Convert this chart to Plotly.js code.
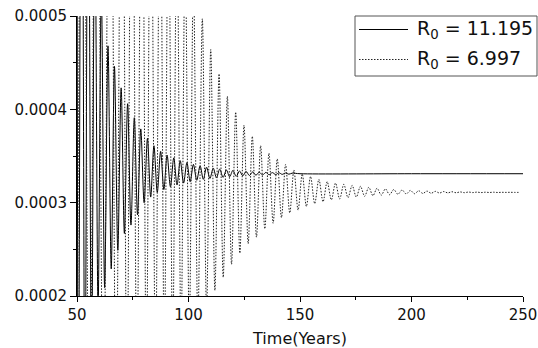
<!DOCTYPE html>
<html>
<head>
<meta charset="utf-8">
<script src="https://cdn.plot.ly/plotly-3.0.1.min.js"></script>
<style>html,body{margin:0;padding:0;background:#fff;}#chart{width:538px;height:348px;}</style>
</head>
<body>
<div id="chart"></div>
<script>
// Series names
const seriesNames = ['R<sub>0</sub> = 11.195', 'R<sub>0</sub> = 6.997'];

// R0 = 11.195 (solid): local extremes (time in years, value)
const solidT = [50, 50.6, 52.1, 53.55, 55.0, 56.5, 58.0, 59.45, 60.9, 62.4, 63.9, 65.35, 66.8, 68.3, 69.8,
  71.25, 72.7, 74.2, 75.7, 77.15, 78.6, 80.1, 81.6, 83.05, 84.5, 86.0, 87.5, 88.95, 90.4, 91.9, 93.4,
  94.85, 96.3, 97.8, 99.3, 100.75, 102.2, 103.7, 105.2, 106.65, 108.1, 109.6, 111.1, 112.55, 114.0,
  115.5, 117.0, 118.45, 119.9, 121.4, 122.9, 124.35, 125.8, 127.3, 128.8, 130.25, 131.7, 133.2, 134.7,
  136.15, 137.6, 139.1, 140.6, 142.05, 143.5, 145.0, 146.5, 150, 200, 250];
const solidV = [7.0e-4, 0.2e-4, 9.0e-4, 0.5e-4, 7.8e-4, 1.1e-4, 6.3e-4, 1.86e-4, 5.3e-4, 2.09e-4, 4.68e-4,
  2.29e-4, 4.46e-4, 2.49e-4, 4.23e-4, 2.67e-4, 4.06e-4, 2.76e-4, 3.91e-4, 2.87e-4, 3.79e-4, 3.00e-4,
  3.69e-4, 3.06e-4, 3.61e-4, 3.11e-4, 3.55e-4, 3.14e-4, 3.51e-4, 3.17e-4, 3.48e-4, 3.19e-4, 3.45e-4,
  3.21e-4, 3.43e-4, 3.225e-4, 3.41e-4, 3.24e-4, 3.395e-4, 3.25e-4, 3.38e-4, 3.26e-4, 3.37e-4, 3.265e-4,
  3.36e-4, 3.27e-4, 3.35e-4, 3.277e-4, 3.345e-4, 3.282e-4, 3.34e-4, 3.287e-4, 3.335e-4, 3.291e-4,
  3.33e-4, 3.294e-4, 3.327e-4, 3.297e-4, 3.324e-4, 3.299e-4, 3.322e-4, 3.301e-4, 3.32e-4, 3.303e-4,
  3.318e-4, 3.305e-4, 3.316e-4, 3.31e-4, 3.31e-4, 3.31e-4];

// R0 = 6.997 (dotted): local extremes
const dotT = [50, 52.5, 55.6, 58.8, 61.8, 64.9, 67.5, 70.15, 72.4, 74.6, 76.85, 79.1, 81.1, 83.1, 85.2,
  87.3, 89.15, 91.0, 92.9, 94.8, 96.65, 98.5, 100.35, 102.2, 104.2, 106.2, 108.1, 109.97, 111.84, 113.7,
  115.57, 117.43, 119.3, 121.16, 123.03, 124.89, 126.76, 128.62, 130.49, 132.35, 134.22, 136.08, 137.95,
  139.81, 141.68, 143.54, 145.41, 147.27, 149.14, 151.0, 152.87, 154.73, 156.6, 158.46, 160.33, 162.19,
  164.06, 165.92, 167.79, 169.65, 171.52, 173.38, 175.25, 177.11, 178.98, 180.84, 182.71, 184.57, 186.44,
  188.3, 190.17, 192.03, 193.9, 195.76, 197.63, 199.49, 201.36, 203.22, 205.09, 206.95, 208.82, 210.68,
  212.55, 214.41, 216.28, 218.14, 220.01, 221.87, 223.74, 225.6, 227.47, 229.33, 231.2, 233.06, 234.93,
  236.79, 238.66, 240.52, 242.39, 244.25, 246.12, 248.5];
const dotV = [0.5e-4, 9e-4, 0.3e-4, 9e-4, 0.5e-4, 9e-4, 0.6e-4, 8.5e-4, 0.8e-4, 8.5e-4, 1.0e-4, 8e-4, 1.1e-4,
  7.5e-4, 1.2e-4, 7e-4, 1.3e-4, 6.5e-4, 1.4e-4, 6.2e-4, 1.5e-4, 5.8e-4, 1.6e-4, 5.4e-4, 1.7e-4, 4.97e-4,
  1.85e-4, 4.64e-4, 2.06e-4, 4.38e-4, 2.20e-4, 4.14e-4, 2.34e-4, 3.97e-4, 2.46e-4, 3.83e-4, 2.56e-4,
  3.71e-4, 2.63e-4, 3.61e-4, 2.72e-4, 3.53e-4, 2.78e-4, 3.47e-4, 2.84e-4, 3.41e-4, 2.89e-4, 3.35e-4,
  2.92e-4, 3.307e-4, 2.96e-4, 3.28e-4, 2.99e-4, 3.25e-4, 3.01e-4, 3.225e-4, 3.03e-4, 3.21e-4, 3.04e-4,
  3.197e-4, 3.053e-4, 3.185e-4, 3.06e-4, 3.175e-4, 3.068e-4, 3.165e-4, 3.075e-4, 3.155e-4, 3.08e-4,
  3.148e-4, 3.085e-4, 3.141e-4, 3.09e-4, 3.136e-4, 3.093e-4, 3.131e-4, 3.096e-4, 3.127e-4, 3.099e-4,
  3.124e-4, 3.101e-4, 3.121e-4, 3.103e-4, 3.119e-4, 3.105e-4, 3.117e-4, 3.106e-4, 3.115e-4, 3.107e-4,
  3.114e-4, 3.108e-4, 3.113e-4, 3.108e-4, 3.112e-4, 3.109e-4, 3.112e-4, 3.109e-4, 3.111e-4, 3.11e-4,
  3.111e-4, 3.11e-4, 3.11e-4];

// Axis ticks
const xTicks = [50, 100, 150, 200, 250];
const yTicks = [0.0002, 0.0003, 0.0004, 0.0005];
const yTickText = ['0.0002', '0.0003', '0.0004', '0.0005'];

const FONT = 'DejaVu Sans, Arial, sans-serif';
const dotDash = '1.5px,1.5px';

const traces = [
  {x: solidT, y: solidV, mode: 'lines', name: seriesNames[0], showlegend: false,
   line: {color: '#000', width: 1, shape: 'spline', smoothing: 0.9}},
  {x: dotT, y: dotV, mode: 'lines', name: seriesNames[1], showlegend: false,
   line: {color: '#222', width: 1, dash: dotDash, shape: 'spline', smoothing: 0.9}}
];

const L = 77, R = 15, T = 16, B = 52, W = 538, H = 348;
const pw = W - L - R, ph = H - T - B;
const px = v => (v - L) / pw;
const py = v => (H - B - v) / ph;

const layout = {
  width: W, height: H,
  margin: {l: L, r: R, t: T, b: B},
  paper_bgcolor: '#fff', plot_bgcolor: '#fff',
  showlegend: false,
  font: {family: FONT, color: '#111'},
  xaxis: {
    range: [50, 250], tickvals: xTicks, ticktext: xTicks.map(String),
    showgrid: false, zeroline: false, showline: true, linecolor: '#000', linewidth: 1,
    ticks: 'outside', ticklen: 5, tickwidth: 1, tickcolor: '#000',
    tickfont: {family: FONT, size: 15, color: '#111'},
    minor: {dtick: 25, tick0: 50, ticks: 'outside', ticklen: 3, tickwidth: 1, tickcolor: '#000', showgrid: false},
    title: {text: 'Time(Years)', font: {family: FONT, size: 16, color: '#111'}, standoff: 9},
    fixedrange: true
  },
  yaxis: {
    range: [0.0002, 0.0005], tickvals: yTicks, ticktext: yTickText,
    showgrid: false, zeroline: false, showline: true, linecolor: '#000', linewidth: 1,
    ticks: 'outside', ticklen: 6, tickwidth: 1, tickcolor: '#000',
    tickfont: {family: FONT, size: 15, color: '#111'},
    minor: {dtick: 0.00005, tick0: 0.0002, ticks: 'outside', ticklen: 3, tickwidth: 1, tickcolor: '#000', showgrid: false},
    fixedrange: true
  },
  shapes: [
    {type: 'rect', xref: 'paper', yref: 'paper', x0: px(355), x1: px(537), y0: py(76), y1: py(16),
     line: {color: '#555', width: 1}, fillcolor: '#fff', layer: 'above'},
    {type: 'line', xref: 'paper', yref: 'paper', x0: px(359), x1: px(408), y0: py(29.5), y1: py(29.5),
     line: {color: '#000', width: 1}, layer: 'above'},
    {type: 'line', xref: 'paper', yref: 'paper', x0: px(359), x1: px(408), y0: py(59.5), y1: py(59.5),
     line: {color: '#222', width: 1, dash: dotDash}, layer: 'above'}
  ],
  annotations: [
    {xref: 'paper', yref: 'paper', x: px(415), y: py(29.5), xanchor: 'left', yanchor: 'middle',
     text: seriesNames[0], showarrow: false, font: {family: FONT, size: 19, color: '#111'}},
    {xref: 'paper', yref: 'paper', x: px(415), y: py(59.5), xanchor: 'left', yanchor: 'middle',
     text: seriesNames[1], showarrow: false, font: {family: FONT, size: 19, color: '#111'}}
  ]
};

Plotly.newPlot('chart', traces, layout, {staticPlot: true, displayModeBar: false});
</script>
</body>
</html>
